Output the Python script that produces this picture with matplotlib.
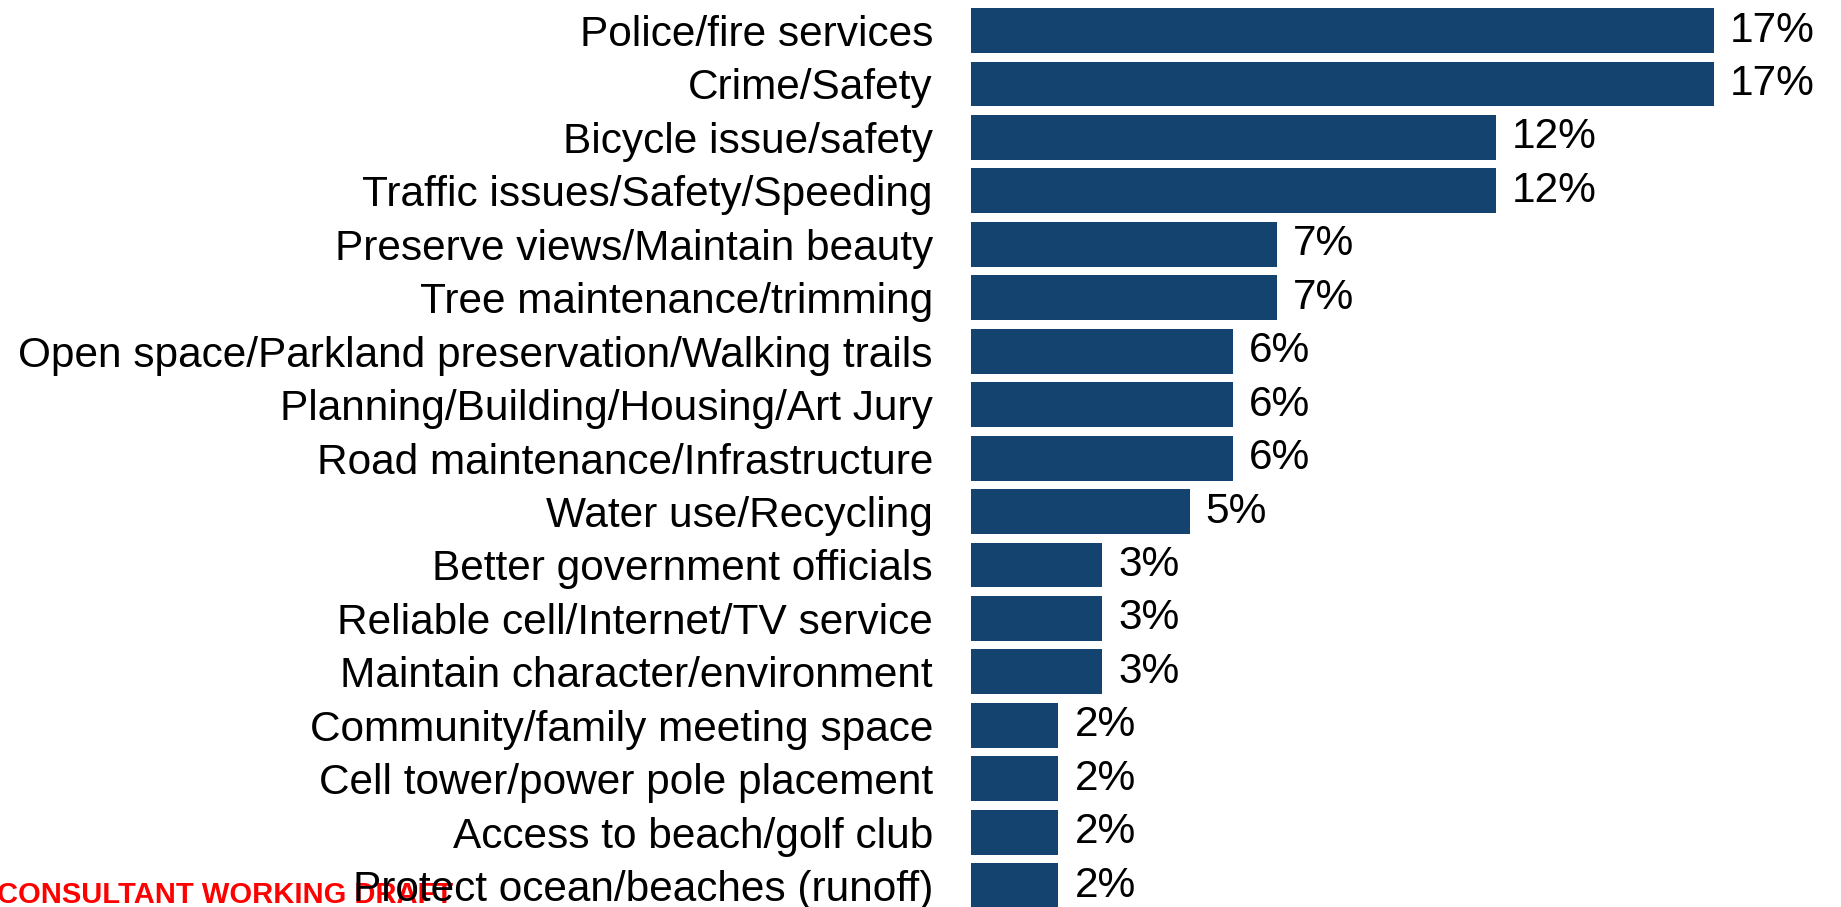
import matplotlib.pyplot as plt

categories = [
    "Police/fire services",
    "Crime/Safety",
    "Bicycle issue/safety",
    "Traffic issues/Safety/Speeding",
    "Preserve views/Maintain beauty",
    "Tree maintenance/trimming",
    "Open space/Parkland preservation/Walking trails",
    "Planning/Building/Housing/Art Jury",
    "Road maintenance/Infrastructure",
    "Water use/Recycling",
    "Better government officials",
    "Reliable cell/Internet/TV service",
    "Maintain character/environment",
    "Community/family meeting space",
    "Cell tower/power pole placement",
    "Access to beach/golf club",
    "Protect ocean/beaches (runoff)",
]
percent = [17, 17, 12, 12, 7, 7, 6, 6, 6, 5, 3, 3, 3, 2, 2, 2, 2]

BAR_COLOR = "#15436F"

plt.rcParams["font.family"] = ["Liberation Sans", "DejaVu Sans"]

fig = plt.figure(figsize=(18.41, 9.07), dpi=100)
ax = fig.add_axes([971 / 1841, 0, 870 / 1841, 1])

pos = list(range(len(categories)))
ax.barh(pos, percent, height=0.84, color=BAR_COLOR)
ax.set_ylim(16.40, -0.571)
ax.set_xlim(0, 19.9)

ax.set_yticks(pos)
ax.set_yticklabels(categories, fontsize=30.5)
ax.tick_params(axis="y", length=0, pad=27.4)
ax.set_xticks([])
for s in ax.spines.values():
    s.set_visible(False)

for p, v in zip(pos, percent):
    ax.annotate("%d%%" % v, xy=(v, p), xytext=(11.5, 0), textcoords="offset points",
                va="center", ha="left", fontsize=30.5)

# draft stamp in the corner, sits underneath the last label
fig.text(-3 / 1841, 4 / 907, "CONSULTANT WORKING DRAFT", color="red", fontweight="bold",
         fontsize=21, ha="left", va="baseline", zorder=-1)

fig.savefig("out.png", dpi=100)
